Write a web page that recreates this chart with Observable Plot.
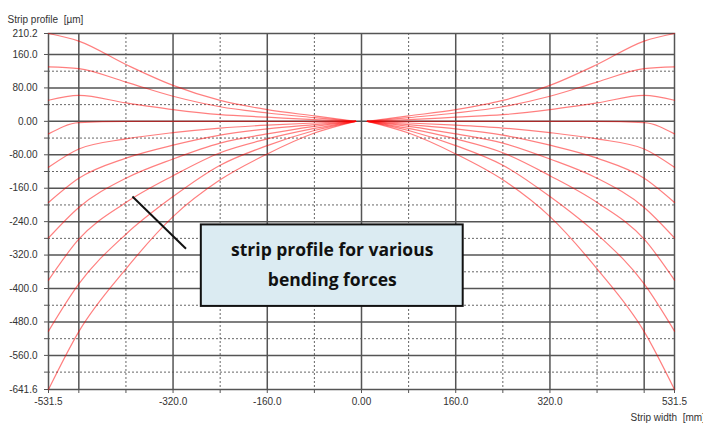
<!DOCTYPE html>
<html>
<head>
<meta charset="utf-8">
<script src="https://cdn.jsdelivr.net/npm/d3@7"></script>
<script src="https://cdn.jsdelivr.net/npm/@observablehq/plot@0.6"></script>
<style>
  html, body { margin: 0; padding: 0; background: #fff; }
</style>
</head>
<body>
<div id="chart"></div>
<script>
// Strip width positions (mm) — left and right halves, gap around the centre
const xPos = [-531.5, -480, -400, -320, -240, -160, -80, -10, 10, 80, 160, 240, 320, 400, 480, 531.5];

// Strip profile (µm) for various bending forces
const force1  = [210.2, 192, 136, 86, 50, 28, 13, 0, 0, 13, 28, 50, 86, 136, 192, 210.2];
const force2  = [130.5, 126, 94, 60, 35, 20, 9, 0, 0, 9, 20, 35, 60, 94, 126, 130.5];
const force3  = [50.5, 62, 44, 28, 16, 10, 4, 0, 0, 4, 10, 16, 28, 44, 62, 50.5];
const force4  = [-30, -3, 0, 0, 0, 0, 0, 0, 0, 0, 0, 0, 0, 0, -3, -30];
const force5  = [-110, -66, -42, -27, -16, -9, -4, 0, 0, -4, -9, -16, -27, -42, -66, -110];
const force6  = [-194, -136, -88, -57, -33, -18, -8, 0, 0, -8, -18, -33, -57, -88, -136, -194];
const force7  = [-279, -206, -136, -90, -52, -30, -12, 0, 0, -12, -30, -52, -90, -136, -206, -279];
const force8  = [-380, -282, -194, -130, -75, -42, -17, 0, 0, -17, -42, -75, -130, -194, -282, -380];
const force9  = [-502, -389, -270, -180, -105, -58, -22, 0, 0, -22, -58, -105, -180, -270, -389, -502];
const force10 = [-641.6, -503, -353, -228, -140, -78, -28, 0, 0, -28, -78, -140, -228, -353, -503, -641.6];
const forces = [force1, force2, force3, force4, force5, force6, force7, force8, force9, force10];

// Axis ticks & labels
const yTickValues = [210.2, 160, 80, 0, -80, -160, -240, -320, -400, -480, -560, -641.6];
const yTickLabels = ["210.2", "160.0", "80.00", "0.00", "-80.00", "-160.0", "-240.0", "-320.0", "-400.0", "-480.0", "-560.0", "-641.6"];
const xTickValues = [-531.5, -320, -160, 0, 160, 320, 531.5];
const xTickLabels = ["-531.5", "-320.0", "-160.0", "0.00", "160.0", "320.0", "531.5"];

// Grid lines
const xGridSolid = [-480, -320, -160, 0, 160, 320, 480];
const xGridDotted = [-400, -240, -80, 80, 240, 400];
const yGridSolid = [160, 80, 0, -80, -160, -240, -320, -400, -480, -560];
const yGridDotted = [120, 40, -40, -120, -200, -280, -360, -440, -520, -600];

// Titles
const yTitle = "Strip profile  [\u00b5m]";
const xTitle = "Strip width  [mm]";

// Callout annotation (in data units)
const calloutLine = [{x1: -389, y1: -180, x2: -298, y2: -305}];
const calloutBox = [{x1: -272, x2: 172.7, y1: -247.8, y2: -442.8}];
const calloutText = [
  {x: -49.7, y: -309.4, text: "strip profile for various"},
  {x: -49.7, y: -381.2, text: "bending forces"}
];

const rows = [];
forces.forEach((vals, k) => {
  vals.forEach((v, i) => {
    rows.push({x: xPos[i], y: v, z: `${k}-${xPos[i] < 0 ? "L" : "R"}`});
  });
});

const yLabelMap = new Map(yTickValues.map((d, i) => [d, yTickLabels[i]]));
const xLabelMap = new Map(xTickValues.map((d, i) => [d, xTickLabels[i]]));

const chart = Plot.plot({
  width: 703,
  height: 427,
  marginLeft: 48,
  marginRight: 29,
  marginTop: 33,
  marginBottom: 38,
  x: {domain: [-531.5, 531.5]},
  y: {domain: [-641.6, 210.2]},
  style: {fontFamily: "'Liberation Sans', Arial, sans-serif", fontSize: "10px", color: "#333", background: "#fff"},
  marks: [
    Plot.ruleX(xGridDotted, {stroke: "#666", strokeWidth: 1, strokeDasharray: "2,2"}),
    Plot.ruleY(yGridDotted, {stroke: "#666", strokeWidth: 1, strokeDasharray: "2,2"}),
    Plot.ruleX(xGridSolid, {stroke: "#555", strokeWidth: 1.5}),
    Plot.ruleY(yGridSolid, {stroke: "#555", strokeWidth: 1.5}),
    Plot.frame({stroke: "#555", strokeWidth: 1.5}),
    Plot.axisY({ticks: [...yGridSolid, ...yGridDotted, 210.2, -641.6], tickSize: 4, tickFormat: () => "", label: null, stroke: "#555"}),
    Plot.axisY({ticks: yTickValues, tickSize: 0, tickPadding: 11, tickFormat: d => yLabelMap.get(d), label: null, fill: "#333"}),
    Plot.axisX({ticks: [...xGridSolid, ...xGridDotted, -531.5, 531.5], tickSize: 4, tickFormat: () => "", label: null, stroke: "#555"}),
    Plot.axisX({ticks: xTickValues, tickSize: 0, tickPadding: 8, tickFormat: d => xLabelMap.get(d), label: null, fill: "#333"}),
    Plot.line(rows, {x: "x", y: "y", z: "z", curve: "monotone-x", stroke: "#ff0000", strokeOpacity: 0.5, strokeWidth: 1.2}),
    Plot.link(calloutLine, {x1: "x1", y1: "y1", x2: "x2", y2: "y2", stroke: "#111", strokeWidth: 2}),
    Plot.rect(calloutBox, {x1: "x1", x2: "x2", y1: "y1", y2: "y2", fill: "#dbebf2", stroke: "#111", strokeWidth: 2}),
    Plot.text(calloutText, {x: "x", y: "y", text: "text", fontFamily: "'Open Sans', Lato, sans-serif", fontWeight: "bold", fontSize: 17.5, fill: "#111"}),
    Plot.text([yTitle], {frameAnchor: "top-left", text: d => d, textAnchor: "start", dx: -41, dy: -18, fill: "#333"}),
    Plot.text([xTitle], {frameAnchor: "bottom-right", text: d => d, textAnchor: "start", dx: -44, dy: 31, fill: "#333"})
  ]
});
document.getElementById("chart").appendChild(chart);
</script>
</body>
</html>
